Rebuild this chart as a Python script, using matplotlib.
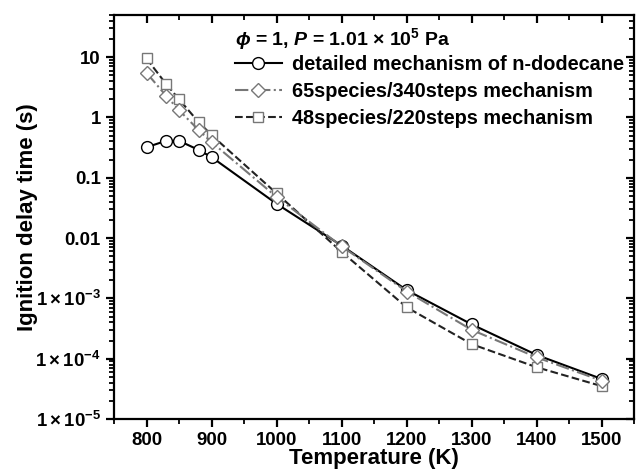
import numpy as np
import matplotlib
matplotlib.use("Agg")
import matplotlib.pyplot as plt
from matplotlib.ticker import FixedLocator, FixedFormatter, LogLocator, NullFormatter, MultipleLocator

plt.rcParams['font.family'] = ['Liberation Sans', 'DejaVu Sans']
plt.rcParams['font.weight'] = 'bold'
plt.rcParams['mathtext.fontset'] = 'custom'
plt.rcParams['mathtext.rm'] = 'Liberation Sans:bold'
plt.rcParams['mathtext.it'] = 'Liberation Sans:bold:italic'
plt.rcParams['mathtext.bf'] = 'Liberation Sans:bold'

# temperatures (K)
T = [800, 830, 850, 880, 900, 1000, 1100, 1200, 1300, 1400, 1500]
# ignition delay times (s)
detailed = [0.32, 0.41, 0.41, 0.29, 0.22, 0.037, 0.0075, 0.00137, 3.7e-4, 1.15e-4, 4.6e-5]
sp65 = [5.5, 2.3, 1.32, 0.62, 0.39, 0.048, 0.0073, 0.0013, 3.0e-4, 1.05e-4, 4.3e-5]
sp48 = [9.5, 3.6, 2.0, 0.84, 0.51, 0.055, 0.0059, 7.1e-4, 1.74e-4, 7.2e-5, 3.5e-5]

labels = ['detailed mechanism of n-dodecane',
          '65species/340steps mechanism',
          '48species/220steps mechanism']
ytick_vals = [1e-5, 1e-4, 1e-3, 0.01, 0.1, 1, 10]
ytick_labels = [r'$1\times10^{-5}$', r'$1\times10^{-4}$', r'$1\times10^{-3}$',
                '0.01', '0.1', '1', '10']

fig = plt.figure(figsize=(6.36, 4.76), dpi=100)
ax = fig.add_axes([0.1792, 0.1197, 0.8184, 0.8488])

ax.plot(T, detailed, '-', color='black', lw=1.5, marker='o', ms=8.5,
        mfc='white', mec='black', mew=1.0, label=labels[0], zorder=3)
ax.plot(T, sp65, '-.', color='#777777', lw=1.5, marker='D', ms=7,
        mfc='white', mec='#777777', mew=1.0, label=labels[1], zorder=5)
ax.plot(T, sp48, '--', color='#222222', lw=1.5, marker='s', ms=7.5,
        mfc='white', mec='#777777', mew=1.0, label=labels[2], zorder=4)

ax.set_yscale('log')
ax.set_xlim(750, 1550)
ax.set_ylim(1e-5, 50)

ax.xaxis.set_major_locator(MultipleLocator(100))
ax.xaxis.set_minor_locator(MultipleLocator(50))
ax.yaxis.set_major_locator(FixedLocator(ytick_vals))
ax.yaxis.set_major_formatter(FixedFormatter(ytick_labels))
ax.yaxis.set_minor_locator(LogLocator(base=10, subs=np.arange(2, 10)))
ax.yaxis.set_minor_formatter(NullFormatter())

for s in ax.spines.values():
    s.set_linewidth(1.6)
ax.tick_params(axis='both', which='major', labelsize=13.4, width=1.6, length=6,
               direction='out')
ax.tick_params(axis='both', which='minor', width=1.3, length=3.5, direction='out')
ax.tick_params(top=True, right=True, which='both')

# top and right ticks point inwards
for t in ax.xaxis.get_major_ticks() + ax.xaxis.get_minor_ticks():
    t.tick2line.set_marker(3)
for t in ax.yaxis.get_major_ticks() + ax.yaxis.get_minor_ticks():
    t.tick2line.set_marker(0)

ax.set_xlabel('Temperature (K)', fontsize=16, fontweight='bold', labelpad=-1)
ax.set_ylabel('Ignition delay time (s)', fontsize=16, fontweight='bold', labelpad=-2)

leg = ax.legend(loc='upper left', bbox_to_anchor=(0.205, 1.007), frameon=False,
                fontsize=14.3, handlelength=2.4, labelspacing=0.4,
                handletextpad=0.5, borderpad=0.2,
                title=r'$\phi$ = 1, $P$ = 1.01 $\times$ 10$^5$ Pa',
                title_fontproperties={'size': 14, 'weight': 'bold'},
                alignment='left')
leg._legend_box.sep = 2  # title sits close to the entries

fig.savefig('out.png', dpi=100)
